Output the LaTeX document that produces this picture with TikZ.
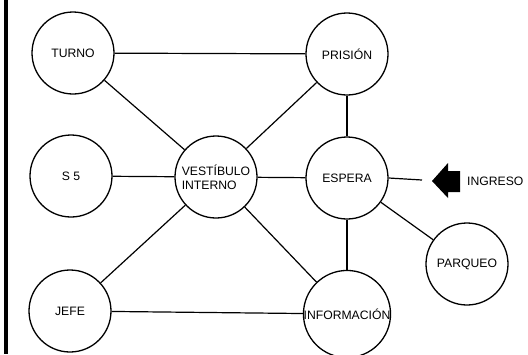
\documentclass[tikz,border=0pt]{standalone}
\usepackage{fontspec}
\setmainfont{Liberation Sans}
\begin{document}
\begin{tikzpicture}[x=1pt,y=1pt,
  room/.style={circle,draw,line width=1.3pt,minimum size=82pt,inner sep=0pt,align=left,
    font=\fontsize{12.2}{14}\selectfont},
  link/.style={line width=1.2pt}]
\useasboundingbox (0,0) rectangle (528,-354);
\fill (3.5,0) rectangle (8,-354);
\node[room] (turno) at (73,-53) {TURNO};
\node[room] (prision) at (347,-54) {PRISIÓN};
\node[room] (s5) at (71,-176) {S 5};
\node[room] (vest) at (216,-177) {VESTÍBULO\\INTERNO};
\node[room] (espera) at (347,-178) {ESPERA};
\node[room] (parqueo) at (467,-264) {PARQUEO};
\node[room] (jefe) at (70,-311) {JEFE};
\node[room] (info) at (347,-314) {INFORMACIÓN};
\coordinate (inend) at (422,-180);
\draw[link] (turno) -- (prision);
\draw[link] (turno) -- (vest);
\draw[link] (s5) -- (vest);
\draw[link] (vest) -- (prision);
\draw[link] (vest) -- (espera);
\draw[link] (vest) -- (jefe);
\draw[link] (vest) -- (info);
\draw[link] (prision) -- (espera);
\draw[link] (espera) -- (info);
\draw[link] (espera) -- (parqueo);
\draw[link] (jefe) -- (info);
\draw[link] (espera.east) -- (inend);
\fill (432,-181) -- (448,-163) -- (448,-171) -- (460,-171) -- (460,-192) -- (448,-192) -- (448,-198) -- cycle;
\node[anchor=west,inner sep=0pt,font=\fontsize{12.2}{14}\selectfont] (ingreso) at (467,-181) {INGRESO};
\end{tikzpicture}
\end{document}
